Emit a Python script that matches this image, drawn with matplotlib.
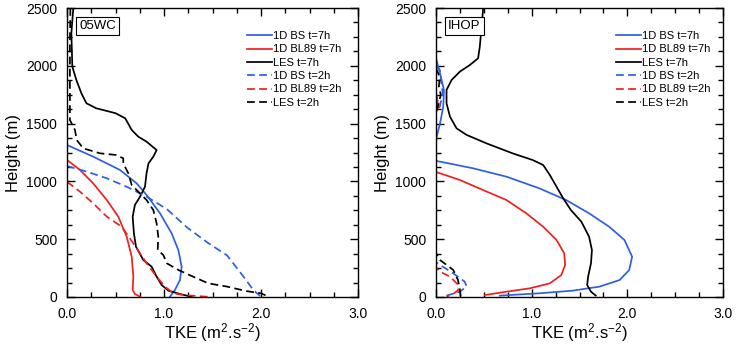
import matplotlib
matplotlib.use("Agg")
import matplotlib.pyplot as plt
from matplotlib.ticker import MultipleLocator, FormatStrFormatter

plt.rcParams['font.family'] = ['Liberation Sans', 'DejaVu Sans']
plt.rcParams['mathtext.fontset'] = 'custom'
plt.rcParams['mathtext.rm'] = 'Liberation Sans'
plt.rcParams['mathtext.it'] = 'Liberation Sans'

# --- 05WC (TKE in m2/s2, height in m) ---
wc_les7_z = [2500, 2281, 1993, 1878, 1763, 1676, 1633, 1590, 1546, 1445, 1387, 1344, 1271, 1214,
             1156, 1070, 954, 868, 796, 695, 550, 435, 320, 262, 176, 104, 55, 26, 9, 0]
wc_les7_k = [0.065, 0.045, 0.055, 0.096, 0.148, 0.20, 0.30, 0.50, 0.60, 0.667, 0.735, 0.82, 0.924, 0.89,
             0.84, 0.82, 0.804, 0.753, 0.70, 0.677, 0.69, 0.711, 0.787, 0.873, 0.924, 0.976, 1.045, 1.165, 1.25, 1.29]
wc_les2_z = [2500, 2200, 1900, 1700, 1531, 1445, 1358, 1286, 1243, 1228, 1199, 1156, 1070, 969,
             911, 839, 752, 637, 522, 406, 363, 291, 233, 176, 118, 90, 51, 32, 9, 0]
wc_les2_k = [0.035, 0.03, 0.03, 0.03, 0.03, 0.082, 0.10, 0.168, 0.34, 0.512, 0.58, 0.58, 0.632, 0.667,
             0.735, 0.82, 0.89, 0.924, 0.941, 0.935, 0.993, 1.03, 1.15, 1.30, 1.457, 1.65, 1.85, 2.0, 2.06, 2.03]
wc_bs7_z = [1315, 1214, 1099, 983, 882, 724, 550, 406, 262, 147, 61, 3]
wc_bs7_k = [0.0, 0.27, 0.546, 0.718, 0.821, 0.959, 1.079, 1.148, 1.182, 1.165, 1.113, 1.062]
wc_bl7_z = [1185, 1099, 983, 839, 695, 522, 349, 176, 61, 26, 3]
wc_bl7_k = [0.0, 0.134, 0.27, 0.41, 0.529, 0.615, 0.667, 0.684, 0.677, 0.70, 0.753]
wc_bs2_z = [1133, 1084, 1027, 954, 868, 760, 600, 470, 360, 176, 61, 9]
wc_bs2_k = [0.0, 0.206, 0.41, 0.615, 0.82, 1.03, 1.24, 1.45, 1.65, 1.82, 1.92, 1.99]
wc_bl2_z = [997, 911, 810, 695, 608, 464, 291, 176, 90, 32, 17, 0]
wc_bl2_k = [0.0, 0.134, 0.27, 0.41, 0.564, 0.684, 0.821, 0.924, 1.01, 1.096, 1.2, 1.49]

# --- IHOP ---
ih_les7_z = [2497, 2338, 2166, 2065, 2007, 1950, 1877, 1791, 1676, 1560, 1459, 1402, 1329, 1243,
             1185, 1142, 1055, 954, 853, 752, 651, 522, 406, 291, 176, 104, 46, 12]
ih_les7_k = [0.493, 0.476, 0.458, 0.44, 0.354, 0.25, 0.163, 0.11, 0.11, 0.146, 0.215, 0.32, 0.528, 0.80,
             1.01, 1.12, 1.19, 1.26, 1.33, 1.41, 1.52, 1.60, 1.63, 1.62, 1.59, 1.58, 1.62, 1.67]
ih_les2_z = [1980, 1900, 1820, 1750, 1680, 1600, 380, 320, 234, 147, 61, 3]
ih_les2_k = [0.0, 0.04, 0.03, 0.05, 0.03, 0.0, 0.0, 0.042, 0.18, 0.23, 0.25, 0.257]
ih_bs7_z = [2065, 1935, 1791, 1647, 1502, 1387, 1329, 1176, 1171, 1113, 1041, 940, 839, 724,
            608, 493, 349, 234, 147, 90, 55, 32, 12]
ih_bs7_k = [0.0, 0.042, 0.083, 0.076, 0.042, 0.007, 0.0, 0.0, 0.042, 0.389, 0.736, 1.08, 1.36, 1.60,
            1.81, 1.97, 2.05, 2.02, 1.92, 1.71, 1.43, 1.08, 0.667]
ih_bl7_z = [1760, 1704, 1647, 1600, 1080, 1070, 1012, 926, 839, 724, 608, 493, 378, 277,
            190, 118, 75, 46, 17]
ih_bl7_k = [0.0, 0.014, 0.024, 0.0, 0.0, 0.042, 0.25, 0.49, 0.736, 0.944, 1.12, 1.26, 1.34, 1.35,
            1.31, 1.19, 0.98, 0.736, 0.51]
ih_bs2_z = [2000, 1965, 1762, 1647, 1600, 300, 277, 205, 133, 90, 46, 12]
ih_bs2_k = [0.0, 0.04, 0.07, 0.04, 0.0, 0.0, 0.042, 0.18, 0.30, 0.32, 0.25, 0.11]
ih_bl2_z = [1760, 1700, 1640, 1600, 260, 219, 176, 104, 61, 26, 3]
ih_bl2_k = [0.0, 0.015, 0.02, 0.0, 0.0, 0.042, 0.146, 0.233, 0.233, 0.18, 0.11]

labels = ['1D BS t=7h', '1D BL89 t=7h', 'LES t=7h', '1D BS t=2h', '1D BL89 t=2h', 'LES t=2h']
blue = '#2e5fe0'
red = '#ee2020'
dash = (0, (4.5, 2.5))

panels = [
    ('05WC', [67 / 737, 51 / 348, 291 / 737, 289 / 348], 0.619,
     [(wc_bs7_k, wc_bs7_z), (wc_bl7_k, wc_bl7_z), (wc_les7_k, wc_les7_z),
      (wc_bs2_k, wc_bs2_z), (wc_bl2_k, wc_bl2_z), (wc_les2_k, wc_les2_z)]),
    ('IHOP', [436 / 737, 51 / 348, 287 / 737, 289 / 348], 0.627,
     [(ih_bs7_k, ih_bs7_z), (ih_bl7_k, ih_bl7_z), (ih_les7_k, ih_les7_z),
      (ih_bs2_k, ih_bs2_z), (ih_bl2_k, ih_bl2_z), (ih_les2_k, ih_les2_z)]),
]

colors = [blue, red, 'black', blue, red, 'black']
styles = ['-', '-', '-', dash, dash, dash]

fig = plt.figure(figsize=(7.37, 3.48), dpi=100)

for name, rect, leg_x, series in panels:
    ax = fig.add_axes(rect)
    for (k, z), c, ls, lab in zip(series, colors, styles, labels):
        ax.plot(k, z, color=c, linestyle=ls, linewidth=1.25, label=lab)
    ax.set_xlim(0, 3)
    ax.set_ylim(0, 2500)
    ax.xaxis.set_major_locator(MultipleLocator(1))
    ax.xaxis.set_minor_locator(MultipleLocator(0.25))
    ax.yaxis.set_major_locator(MultipleLocator(500))
    ax.yaxis.set_minor_locator(MultipleLocator(125))
    ax.xaxis.set_major_formatter(FormatStrFormatter('%.1f'))
    ax.tick_params(which='both', direction='in', top=True, right=True, labelsize=10, width=1)
    ax.tick_params(which='major', length=6)
    ax.tick_params(which='minor', length=3.5)
    ax.tick_params(axis='x', which='major', pad=7)
    ax.tick_params(axis='y', which='major', pad=7)
    for s in ax.spines.values():
        s.set_linewidth(1)
    ax.set_xlabel('TKE (m$^{2}$.s$^{-2}$)', fontsize=12, labelpad=0)
    ax.set_ylabel('Height (m)', fontsize=12, labelpad=4)
    ax.text(0.042, 0.958, name, transform=ax.transAxes, fontsize=9.5, va='top', ha='left',
            bbox=dict(boxstyle='square,pad=0.25', facecolor='white', edgecolor='black', linewidth=0.8))
    ax.legend(loc='upper left', bbox_to_anchor=(leg_x, 0.92), frameon=False, fontsize=8,
              handlelength=2.25, handletextpad=0.1, labelspacing=0.3, borderaxespad=0, borderpad=0)

fig.savefig('out.png', dpi=100)
